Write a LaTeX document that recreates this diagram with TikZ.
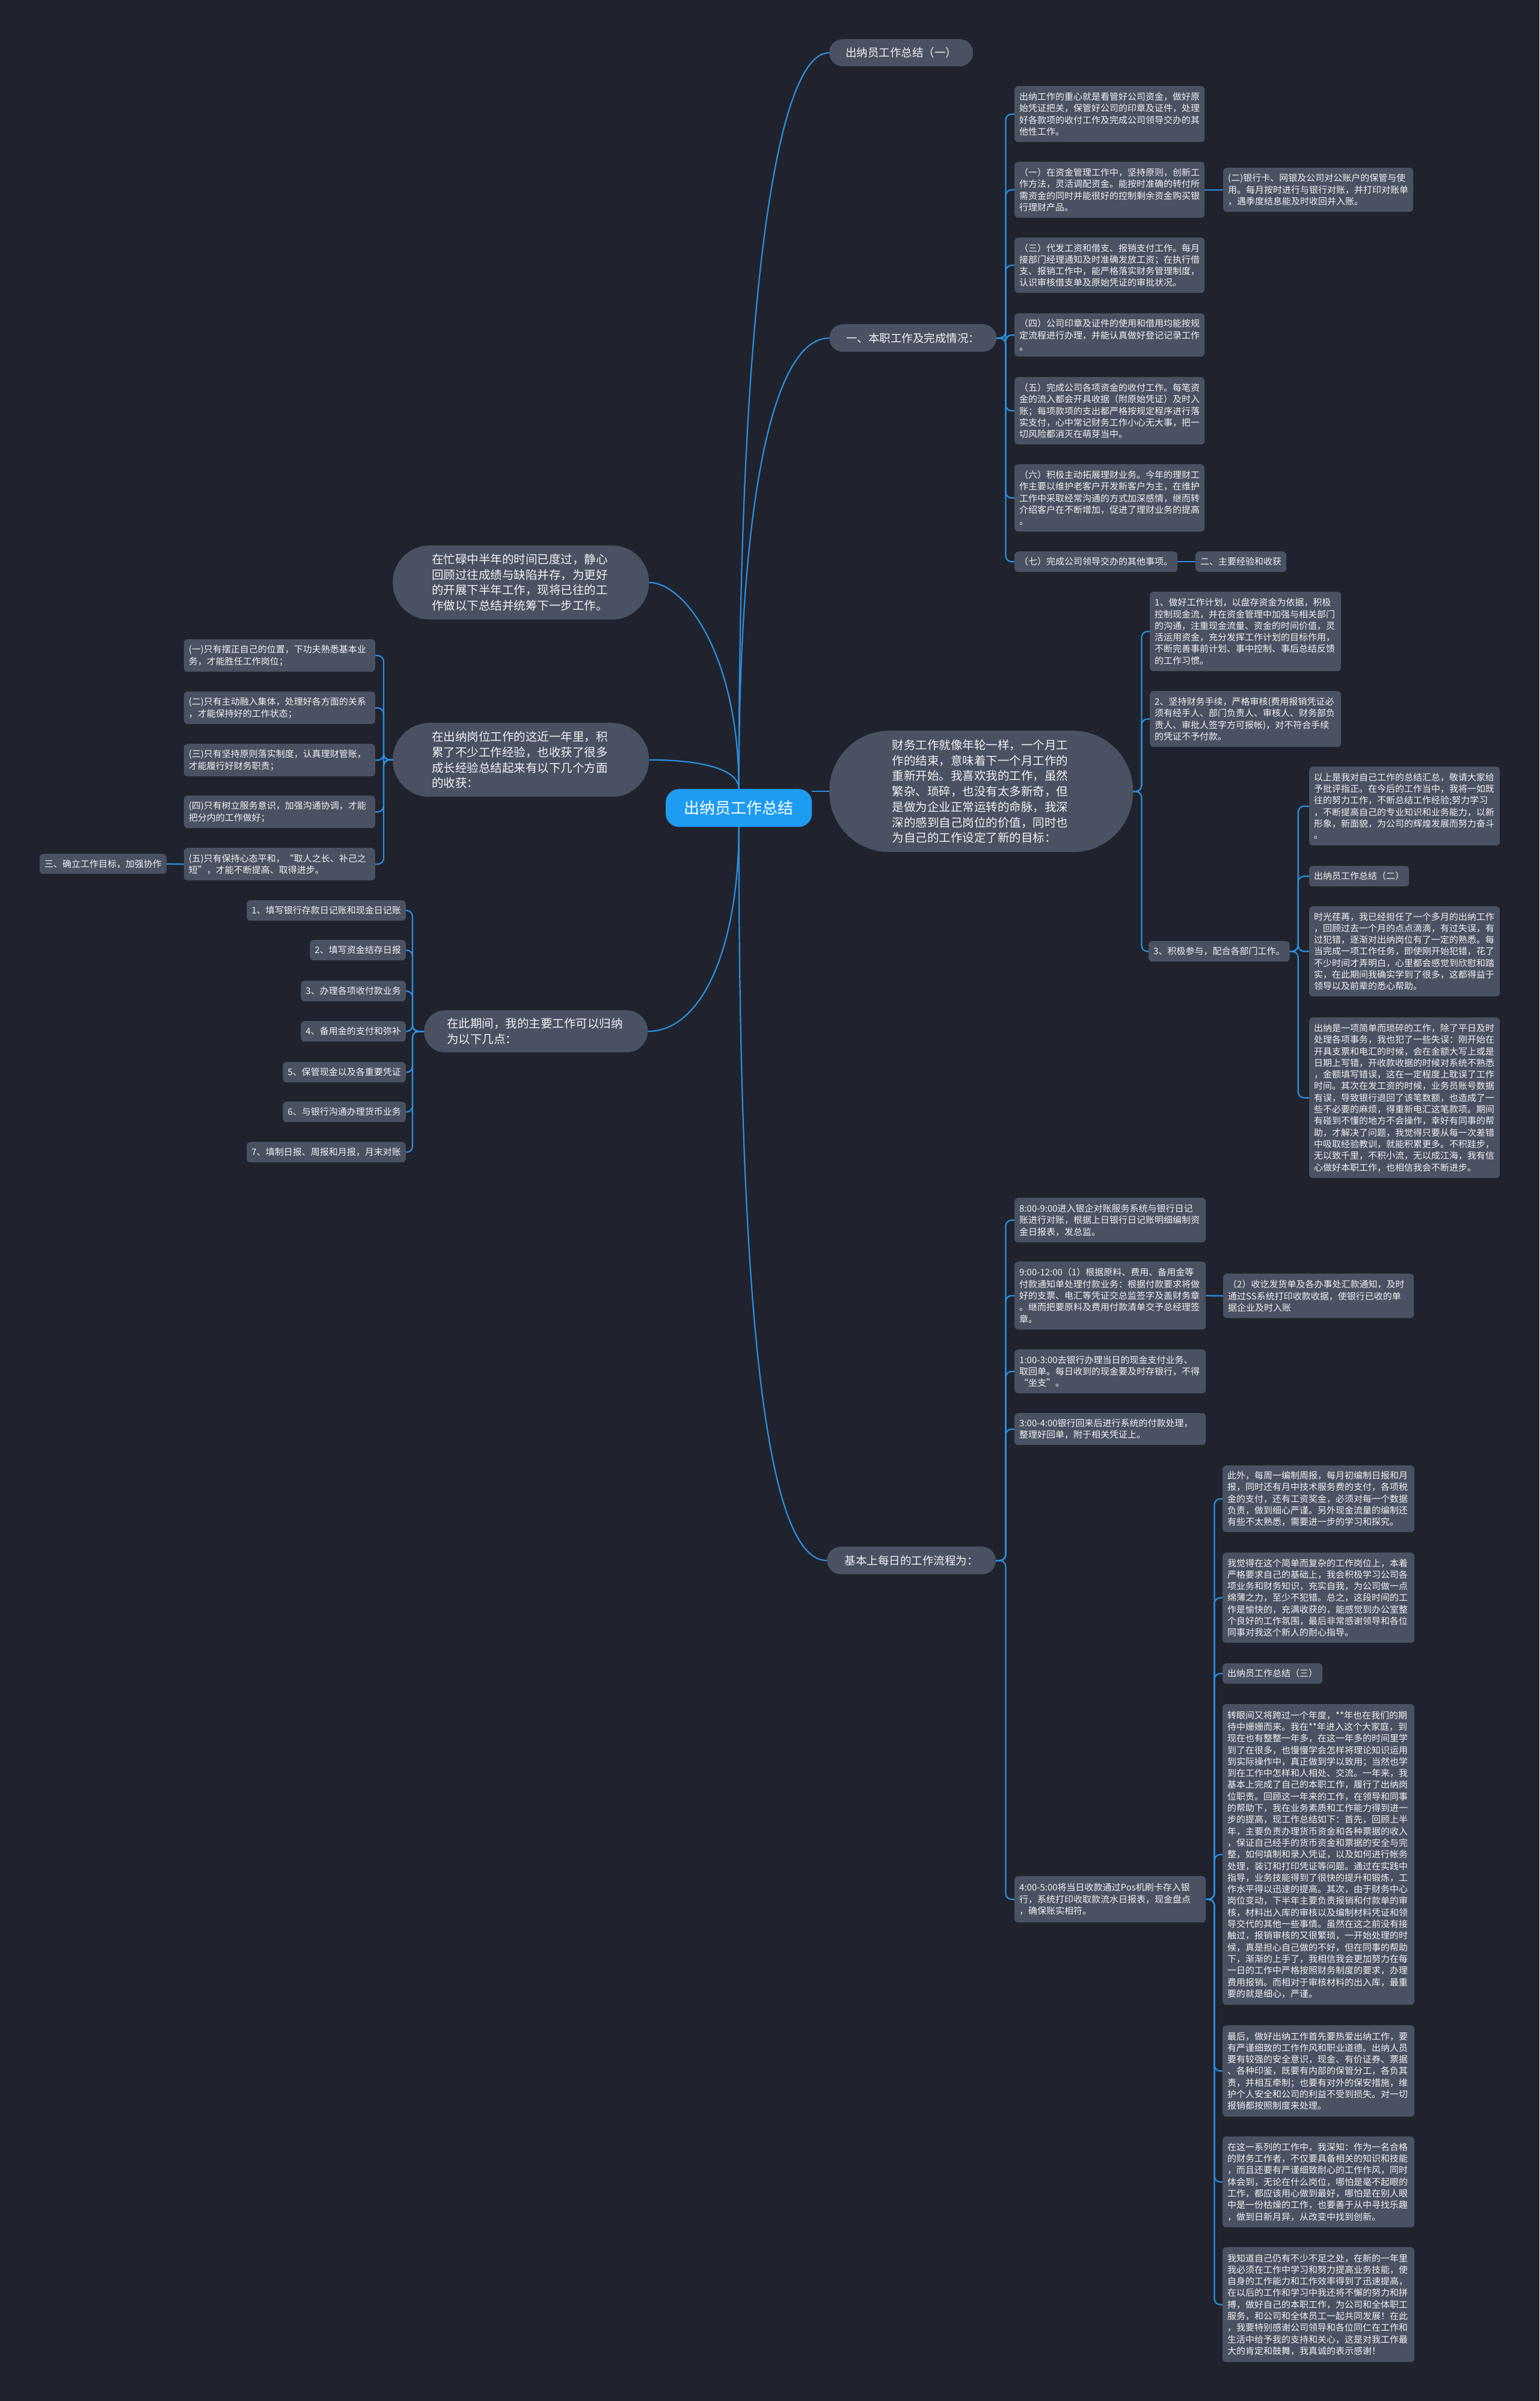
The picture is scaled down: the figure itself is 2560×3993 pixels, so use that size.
\documentclass[tikz,border=0pt]{standalone}
\usepackage{fontspec}
\setmainfont{Noto Sans CJK SC}
\definecolor{bgcol}{HTML}{20232D}
\definecolor{nodecol}{HTML}{4A5162}
\definecolor{txtcol}{HTML}{F2F2F2}
\definecolor{rootcol}{HTML}{1E9CF2}
\definecolor{linecol}{HTML}{2A8FE2}
\tikzset{
 leaf/.style={rectangle, rounded corners=6pt, fill=nodecol, text=txtcol, font=\fontsize{15}{19.3}\selectfont, align=left, inner xsep=8pt, inner ysep=6pt, anchor=north west},
 pill/.style={rectangle, fill=nodecol, text=txtcol, font=\fontsize{19.5}{25.7}\selectfont, align=left, anchor=north west},
 head/.style={rectangle, fill=nodecol, text=txtcol, font=\fontsize{18.5}{24}\selectfont, align=center, anchor=north west, inner sep=0pt},
 conn/.style={draw=linecol, line width=2.2pt},
 trunk/.style={conn, rounded corners=10pt}
}
\begin{document}
\begin{tikzpicture}[x=1pt,y=-1pt]
\path[fill=bgcol] (0,0) rectangle (2560,3993);
\useasboundingbox (0,0) rectangle (2560,3993);

% root
\node[rectangle, rounded corners=22pt, fill=rootcol, text=white, font=\fontsize{26}{30}\selectfont, anchor=north west, minimum width=243pt, minimum height=63pt, inner sep=0pt] (root) at (1107,1312) {出纳员工作总结};

% level 1 right
\node[head, rounded corners=22pt, minimum width=239pt, minimum height=45pt] (A1) at (1379,65) {出纳员工作总结（一）};
\node[head, rounded corners=23pt, minimum width=278pt, minimum height=46pt] (A2) at (1379,539) {一、本职工作及完成情况：};
\node[pill, rounded corners=100pt, minimum width=505pt, minimum height=202pt, text width=296pt, inner xsep=104.5pt] (A3) at (1379,1215) {财务工作就像年轮一样，一个月工\\作的结束，意味着下一个月工作的\\重新开始。我喜欢我的工作，虽然\\繁杂、琐碎，也没有太多新奇，但\\是做为企业正常运转的命脉，我深\\深的感到自己岗位的价值，同时也\\为自己的工作设定了新的目标：};
\node[head, rounded corners=23pt, minimum width=281pt, minimum height=46pt] (A4) at (1375,2572) {基本上每日的工作流程为：};

% level 1 left
\node[pill, rounded corners=61pt, minimum width=426pt, minimum height=123pt, text width=296pt, inner xsep=65pt] (L1) at (653,907) {在忙碌中半年的时间已度过，静心\\回顾过往成绩与缺陷并存，为更好\\的开展下半年工作，现将已往的工\\作做以下总结并统筹下一步工作。};
\node[pill, rounded corners=61pt, minimum width=426pt, minimum height=123pt, text width=296pt, inner xsep=65pt] (L2) at (653,1202) {在出纳岗位工作的这近一年里，积\\累了不少工作经验，也收获了很多\\成长经验总结起来有以下几个方面\\的收获：};
\node[pill, rounded corners=35pt, minimum width=372pt, minimum height=70pt, text width=296pt, inner xsep=38pt] (L3) at (705,1680) {在此期间，我的主要工作可以归纳\\为以下几点：};

% A2 children
\node[leaf, text width=300pt, minimum height=93pt] (c1) at (1687,143) {出纳工作的重心就是看管好公司资金，做好原\\始凭证把关，保管好公司的印章及证件，处理\\好各款项的收付工作及完成公司领导交办的其\\他性工作。};
\node[leaf, text width=300pt, minimum height=93pt] (c2) at (1687,269) {（一）在资金管理工作中，坚持原则，创新工\\作方法，灵活调配资金。能按时准确的转付所\\需资金的同时并能很好的控制剩余资金购买银\\行理财产品。};
\node[leaf, text width=300pt, minimum height=73pt] (c2a) at (2034,279) {(二)银行卡、网银及公司对公账户的保管与使\\用。每月按时进行与银行对账，并打印对账单\\，遇季度结息能及时收回并入账。};
\node[leaf, text width=300pt, minimum height=92pt] (c3) at (1687,395) {（三）代发工资和借支、报销支付工作。每月\\接部门经理通知及时准确发放工资；在执行借\\支、报销工作中，能严格落实财务管理制度，\\认识审核借支单及原始凭证的审批状况。};
\node[leaf, text width=300pt, minimum height=72pt] (c4) at (1687,521) {（四）公司印章及证件的使用和借用均能按规\\定流程进行办理，并能认真做好登记记录工作\\。};
\node[leaf, text width=300pt, minimum height=112pt] (c5) at (1687,627) {（五）完成公司各项资金的收付工作。每笔资\\金的流入都会开具收据（附原始凭证）及时入\\账；每项款项的支出都严格按规定程序进行落\\实支付，心中常记财务工作小心无大事，把一\\切风险都消灭在萌芽当中。};
\node[leaf, text width=300pt, minimum height=112pt] (c6) at (1687,772) {（六）积极主动拓展理财业务。今年的理财工\\作主要以维护老客户开发新客户为主，在维护\\工作中采取经常沟通的方式加深感情，继而转\\介绍客户在不断增加，促进了理财业务的提高\\。};
\node[leaf, minimum height=34pt] (c7) at (1687,917) {（七）完成公司领导交办的其他事项。};
\node[leaf, minimum height=34pt] (c7a) at (1988,917) {二、主要经验和收获};

% A3 children
\node[leaf, text width=302pt, minimum height=132pt] (b1) at (1912,984) {1、做好工作计划，以盘存资金为依据，积极\\控制现金流，并在资金管理中加强与相关部门\\的沟通，注重现金流量、资金的时间价值，灵\\活运用资金，充分发挥工作计划的目标作用，\\不断完善事前计划、事中控制、事后总结反馈\\的工作习惯。};
\node[leaf, text width=302pt, minimum height=93pt] (b2) at (1912,1149) {2、坚持财务手续，严格审核(费用报销凭证必\\须有经手人、部门负责人、审核人、财务部负\\责人、审批人签字方可报帐)，对不符合手续\\的凭证不予付款。};
\node[leaf, minimum height=34pt] (b3) at (1910,1565) {3、积极参与，配合各部门工作。};
\node[leaf, text width=301pt, minimum height=131pt] (d1) at (2177,1275) {以上是我对自己工作的总结汇总，敬请大家给\\予批评指正。在今后的工作当中，我将一如既\\往的努力工作，不断总结工作经验;努力学习\\，不断提高自己的专业知识和业务能力，以新\\形象，新面貌，为公司的辉煌发展而努力奋斗\\。};
\node[leaf, minimum height=34pt] (d2) at (2177,1440) {出纳员工作总结（二）};
\node[leaf, text width=301pt, minimum height=150pt] (d3) at (2177,1507) {时光荏苒，我已经担任了一个多月的出纳工作\\，回顾过去一个月的点点滴滴，有过失误，有\\过犯错，逐渐对出纳岗位有了一定的熟悉。每\\当完成一项工作任务，即使刚开始犯错，花了\\不少时间才弄明白，心里都会感觉到欣慰和踏\\实，在此期间我确实学到了很多，这都得益于\\领导以及前辈的悉心帮助。};
\node[leaf, text width=301pt, minimum height=267pt] (d4) at (2177,1692) {出纳是一项简单而琐碎的工作，除了平日及时\\处理各项事务，我也犯了一些失误：刚开始在\\开具支票和电汇的时候，会在金额大写上或是\\日期上写错，开收款收据的时候对系统不熟悉\\，金额填写错误，这在一定程度上耽误了工作\\时间。其次在发工资的时候，业务员账号数据\\有误，导致银行退回了该笔数额，也造成了一\\些不必要的麻烦，得重新电汇这笔款项。期间\\有碰到不懂的地方不会操作，幸好有同事的帮\\助，才解决了问题，我觉得只要从每一次差错\\中吸取经验教训，就能积累更多。不积跬步，\\无以致千里，不积小流，无以成江海，我有信\\心做好本职工作，也相信我会不断进步。};

% L2 children
\node[leaf, anchor=north east, text width=302pt, minimum height=54pt] (e1) at (624,1063) {(一)只有摆正自己的位置，下功夫熟悉基本业\\务，才能胜任工作岗位；};
\node[leaf, anchor=north east, text width=302pt, minimum height=54pt] (e2) at (624,1150) {(二)只有主动融入集体，处理好各方面的关系\\，才能保持好的工作状态；};
\node[leaf, anchor=north east, text width=302pt, minimum height=54pt] (e3) at (624,1237) {(三)只有坚持原则落实制度，认真理财管账，\\才能履行好财务职责；};
\node[leaf, anchor=north east, text width=302pt, minimum height=54pt] (e4) at (624,1323) {(四)只有树立服务意识，加强沟通协调，才能\\把分内的工作做好；};
\node[leaf, anchor=north east, text width=302pt, minimum height=54pt] (e5) at (624,1410) {(五)只有保持心态平和，“取人之长、补己之\\短”，才能不断提高、取得进步。};
\node[leaf, anchor=north east, minimum height=33pt] (e5a) at (277,1420) {三、确立工作目标，加强协作};

% L3 children
\node[leaf, anchor=north east, minimum height=34pt] (f1) at (675,1497) {1、填写银行存款日记账和现金日记账};
\node[leaf, anchor=north east, minimum height=34pt] (f2) at (675,1563) {2、填写资金结存日报};
\node[leaf, anchor=north east, minimum height=34pt] (f3) at (675,1631) {3、办理各项收付款业务};
\node[leaf, anchor=north east, minimum height=34pt] (f4) at (675,1698) {4、备用金的支付和弥补};
\node[leaf, anchor=north east, minimum height=34pt] (f5) at (675,1766) {5、保管现金以及各重要凭证};
\node[leaf, anchor=north east, minimum height=34pt] (f6) at (675,1832) {6、与银行沟通办理货币业务};
\node[leaf, anchor=north east, minimum height=34pt] (f7) at (675,1899) {7、填制日报、周报和月报，月末对账};

% A4 children
\node[leaf, text width=302pt, minimum height=74pt] (g1) at (1687,1992) {8:00-9:00进入银企对账服务系统与银行日记\\账进行对账，根据上日银行日记账明细编制资\\金日报表，发总监。};
\node[leaf, text width=302pt, minimum height=113pt] (g2) at (1687,2098) {9:00-12:00（1）根据原料、费用、备用金等\\付款通知单处理付款业务：根据付款要求将做\\好的支票、电汇等凭证交总监签字及盖财务章\\。继而把要原料及费用付款清单交予总经理签\\章。};
\node[leaf, text width=301pt, minimum height=74pt] (g2a) at (2034,2118) {（2）收讫发货单及各办事处汇款通知，及时\\通过SS系统打印收款收据，使银行已收的单\\据企业及时入账};
\node[leaf, text width=302pt, minimum height=73pt] (g3) at (1687,2244) {1:00-3:00去银行办理当日的现金支付业务、\\取回单。每日收到的现金要及时存银行，不得\\“坐支”。};
\node[leaf, text width=302pt, minimum height=53pt] (g4) at (1687,2350) {3:00-4:00银行回来后进行系统的付款处理，\\整理好回单，附于相关凭证上。};
\node[leaf, text width=302pt, minimum height=77pt] (g5) at (1687,3120) {4:00-5:00将当日收款通过Pos机刷卡存入银\\行，系统打印收取款流水日报表，现金盘点\\，确保账实相符。};

% g5 children
\node[leaf, text width=303pt, minimum height=111pt] (h1) at (2033,2437) {此外，每周一编制周报，每月初编制日报和月\\报，同时还有月中技术服务费的支付，各项税\\金的支付，还有工资奖金，必须对每一个数据\\负责，做到细心严谨。另外现金流量的编制还\\有些不太熟悉，需要进一步的学习和探究。};
\node[leaf, text width=303pt, minimum height=150pt] (h2) at (2033,2582) {我觉得在这个简单而复杂的工作岗位上，本着\\严格要求自己的基础上，我会积极学习公司各\\项业务和财务知识，充实自我，为公司做一点\\绵薄之力，至少不犯错。总之，这段时间的工\\作是愉快的，充满收获的，能感觉到办公室整\\个良好的工作氛围，最后非常感谢领导和各位\\同事对我这个新人的耐心指导。};
\node[leaf, minimum height=34pt] (h3) at (2033,2766) {出纳员工作总结（三）};
\node[leaf, text width=303pt, minimum height=500pt] (h4) at (2033,2834) {转眼间又将跨过一个年度，**年也在我们的期\\待中姗姗而来。我在**年进入这个大家庭，到\\现在也有整整一年多，在这一年多的时间里学\\到了在很多，也慢慢学会怎样将理论知识运用\\到实际操作中，真正做到学以致用；当然也学\\到在工作中怎样和人相处、交流。一年来，我\\基本上完成了自己的本职工作，履行了出纳岗\\位职责。回顾这一年来的工作，在领导和同事\\的帮助下，我在业务素质和工作能力得到进一\\步的提高，现工作总结如下：首先，回顾上半\\年，主要负责办理货币资金和各种票据的收入\\，保证自己经手的货币资金和票据的安全与完\\整，如何填制和录入凭证，以及如何进行帐务\\处理，装订和打印凭证等问题。通过在实践中\\指导，业务技能得到了很快的提升和锻炼，工\\作水平得以迅速的提高。其次，由于财务中心\\岗位变动，下半年主要负责报销和付款单的审\\核，材料出入库的审核以及编制材料凭证和领\\导交代的其他一些事情。虽然在这之前没有接\\触过，报销审核的又很繁琐，一开始处理的时\\候，真是担心自己做的不好，但在同事的帮助\\下，渐渐的上手了，我相信我会更加努力在每\\一日的工作中严格按照财务制度的要求，办理\\费用报销。而相对于审核材料的出入库，最重\\要的就是细心，严谨。};
\node[leaf, text width=303pt, minimum height=152pt] (h5) at (2033,3368) {最后，做好出纳工作首先要热爱出纳工作，要\\有严谨细致的工作作风和职业道德。出纳人员\\要有较强的安全意识，现金、有价证券、票据\\、各种印鉴，既要有内部的保管分工，各负其\\责，并相互牵制；也要有对外的保安措施，维\\护个人安全和公司的利益不受到损失。对一切\\报销都按照制度来处理。};
\node[leaf, text width=303pt, minimum height=151pt] (h6) at (2033,3553) {在这一系列的工作中，我深知：作为一名合格\\的财务工作者，不仅要具备相关的知识和技能\\，而且还要有严谨细致耐心的工作作风，同时\\体会到，无论在什么岗位，哪怕是毫不起眼的\\工作，都应该用心做到最好，哪怕是在别人眼\\中是一份枯燥的工作，也要善于从中寻找乐趣\\，做到日新月异，从改变中找到创新。};
\node[leaf, text width=303pt, minimum height=191pt] (h7) at (2033,3737) {我知道自己仍有不少不足之处，在新的一年里\\我必须在工作中学习和努力提高业务技能，使\\自身的工作能力和工作效率得到了迅速提高，\\在以后的工作和学习中我还将不懈的努力和拼\\搏，做好自己的本职工作，为公司和全体职工\\服务，和公司和全体员工一起共同发展！在此\\，我要特别感谢公司领导和各位同仁在工作和\\生活中给予我的支持和关心，这是对我工作最\\大的肯定和鼓舞，我真诚的表示感谢！};

% root connectors
\draw[conn] (root.north) .. controls +(0,-800) and +(-90,0) .. (A1.west);
\draw[conn] (root.north) .. controls +(0,-500) and +(-90,0) .. (A2.west);
\draw[conn] (A3.west -| root.east) -- (A3.west);
\draw[conn] (root.south) .. controls +(0,900) and +(-90,0) .. (A4.west);
\draw[conn] (root.north) .. controls +(0,-220) and +(60,0) .. (L1.east);
\draw[conn] (root.north) .. controls +(0,-35) and +(80,0) .. (L2.east);
\draw[conn] (root.south) .. controls +(0,200) and +(90,0) .. (L3.east);

% A2 branch
\foreach \c in {c1,c2,c3,c4,c5,c6,c7}
  \draw[trunk] (A2.east) -- ++(15,0) |- (\c.west);
\draw[conn] (c2.east) -- (c2a.west);
\draw[conn] (c7.east) -- (c7a.west);

% A3 branch
\foreach \c in {b1,b2,b3}
  \draw[trunk] (A3.east) -- ++(14,0) |- (\c.west);
\foreach \c in {d1,d2,d3,d4}
  \draw[trunk] (b3.east) -- ++(14,0) |- (\c.west);

% L2 branch
\foreach \c in {e1,e2,e3,e4,e5}
  \draw[trunk] (L2.west) -- ++(-15,0) |- (\c.east);
\draw[conn] (e5.west) -- (e5a.east);

% L3 branch
\foreach \c in {f1,f2,f3,f4,f5,f6,f7}
  \draw[trunk] (L3.west) -- ++(-19,0) |- (\c.east);

% A4 branch
\foreach \c in {g1,g2,g3,g4,g5}
  \draw[trunk] (A4.east) -- ++(16,0) |- (\c.west);
\draw[conn] (g2.east) -- (g2a.west);

% g5 branch
\foreach \c in {h1,h2,h3,h4,h5,h6,h7}
  \draw[trunk] (g5.east) -- ++(14,0) |- (\c.west);
\end{tikzpicture}
\end{document}
